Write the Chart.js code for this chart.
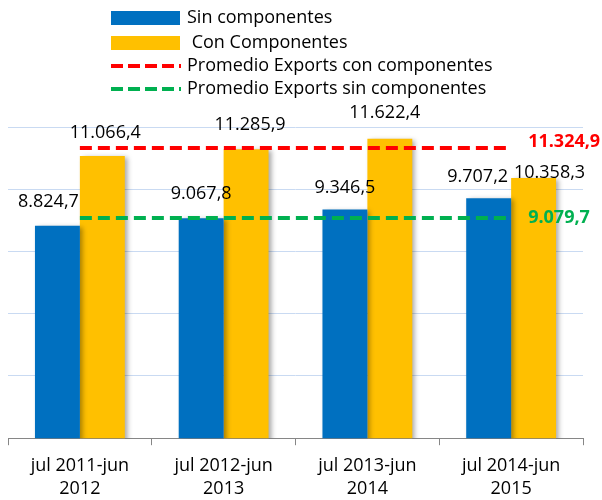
<!DOCTYPE html>
<html>
<head>
<meta charset="utf-8">
<script src="https://cdn.jsdelivr.net/npm/chart.js@4/dist/chart.umd.min.js"></script>
<style>
  html, body { margin: 0; padding: 0; background: #fff; }
  #wrap { width: 602px; height: 500px; position: relative; }
</style>
</head>
<body>
<div id="wrap"><canvas id="myChart1"></canvas></div>
<script>
// data
const categories = [
  ["jul 2011-jun", "2012"],
  ["jul 2012-jun", "2013"],
  ["jul 2013-jun", "2014"],
  ["jul 2014-jun", "2015"],
];
const sinComponentes = [8824.7, 9067.8, 9346.5, 9707.2];
const conComponentes = [11066.4, 11285.9, 11622.4, 10358.3];
const promedioCon = [11324.9, 11324.9, 11324.9, 11324.9];
const promedioSin = [9079.7, 9079.7, 9079.7, 9079.7];
const yMin = 2000;
const yMax = 12000;
const yStep = 2000;

const FONT = "'Open Sans', 'DejaVu Sans', sans-serif";

function fmt(v) {
  return v.toLocaleString("de-DE", { minimumFractionDigits: 1, maximumFractionDigits: 1 });
}

// where Excel put each value label, relative to the top of its bar
const labelNudge = [
  [[-9, -24], [0, -24], [0, -22], [-11, -21]],
  [[3, -23], [4, -24], [-5, -26], [16, -5]],
];

const barShadow = {
  id: "barShadow",
  beforeDatasetDraw(chart, args) {
    if (args.meta.type !== "bar") return;
    const ctx = chart.ctx;
    ctx.save();
    ctx.shadowColor = "rgba(0,0,0,0.35)";
    ctx.shadowBlur = 5;
    ctx.shadowOffsetX = 3;
    ctx.shadowOffsetY = 1;
  },
  afterDatasetDraw(chart, args) {
    if (args.meta.type !== "bar") return;
    chart.ctx.restore();
  },
};

const valueLabels = {
  id: "valueLabels",
  afterDatasetsDraw(chart) {
    const ctx = chart.ctx;
    ctx.save();
    ctx.font = "18px " + FONT;
    ctx.fillStyle = "#000";
    ctx.textAlign = "center";
    ctx.textBaseline = "middle";
    [0, 1].forEach(function (di) {
      const meta = chart.getDatasetMeta(di);
      meta.data.forEach(function (bar, i) {
        const n = labelNudge[di][i];
        ctx.fillText(fmt(chart.data.datasets[di].data[i]), bar.x + n[0], bar.y + n[1]);
      });
    });
    // labels at the end of the average lines
    ctx.font = "bold 18px " + FONT;
    ctx.textAlign = "left";
    [[2, -6], [3, 0]].forEach(function (p) {
      const ds = chart.data.datasets[p[0]];
      const pts = chart.getDatasetMeta(p[0]).data;
      const last = pts[pts.length - 1];
      ctx.fillStyle = ds.borderColor;
      ctx.fillText(fmt(ds.data[ds.data.length - 1]), last.x + 17, last.y + p[1]);
    });
    ctx.restore();
  },
};

const boxLegend = {
  id: "boxLegend",
  afterDraw(chart) {
    const ctx = chart.ctx;
    const rows = [18, 43, 66, 89];
    ctx.save();
    ctx.font = "18px " + FONT;
    ctx.textBaseline = "middle";
    ctx.textAlign = "left";
    chart.data.datasets.forEach(function (ds, i) {
      const y = rows[i];
      if (ds.type === "line") {
        ctx.strokeStyle = ds.borderColor;
        ctx.lineWidth = 4;
        ctx.setLineDash([12, 5]);
        ctx.beginPath();
        ctx.moveTo(111, y);
        ctx.lineTo(181, y);
        ctx.stroke();
        ctx.setLineDash([]);
      } else {
        ctx.fillStyle = ds.backgroundColor;
        ctx.fillRect(111, y - 7, 69, 14);
      }
      ctx.fillStyle = "#000";
      ctx.fillText(ds.label, 187, y);
    });
    ctx.restore();
  },
};

new Chart(document.getElementById("myChart1"), {
  type: "bar",
  data: {
    labels: categories,
    datasets: [
      {
        label: "Sin componentes",
        backgroundColor: "#0070C0",
        data: sinComponentes,
        categoryPercentage: 0.625,
        barPercentage: 1,
        order: 2,
      },
      {
        label: " Con Componentes",
        backgroundColor: "#FFC000",
        data: conComponentes,
        categoryPercentage: 0.625,
        barPercentage: 1,
        order: 2,
      },
      {
        type: "line",
        label: "Promedio Exports con componentes",
        borderColor: "#FF0000",
        backgroundColor: "#FF0000",
        borderWidth: 4,
        borderDash: [12, 6],
        pointRadius: 0,
        fill: false,
        data: promedioCon,
        order: 1,
      },
      {
        type: "line",
        label: "Promedio Exports sin componentes",
        borderColor: "#00B050",
        backgroundColor: "#00B050",
        borderWidth: 4,
        borderDash: [12, 6],
        pointRadius: 0,
        fill: false,
        data: promedioSin,
        order: 1,
      },
    ],
  },
  options: {
    responsive: true,
    maintainAspectRatio: false,
    animation: false,
    layout: { padding: { top: 127, left: 8, right: 19, bottom: -10 } },
    plugins: {
      legend: { display: false },
      tooltip: { enabled: false },
    },
    scales: {
      x: {
        grid: {
          drawOnChartArea: false,
          drawTicks: true,
          tickLength: 7,
          color: "#868686",
        },
        border: { color: "#868686" },
        ticks: {
          color: "#000",
          padding: 9,
          maxRotation: 0,
          font: { family: FONT, size: 18, lineHeight: 1.3 },
        },
      },
      y: {
        min: yMin,
        max: yMax,
        ticks: { display: false, stepSize: yStep },
        grid: { color: "#C9DAF2", drawTicks: false },
        border: { display: false },
      },
    },
  },
  plugins: [barShadow, valueLabels, boxLegend],
});
</script>
</body>
</html>
